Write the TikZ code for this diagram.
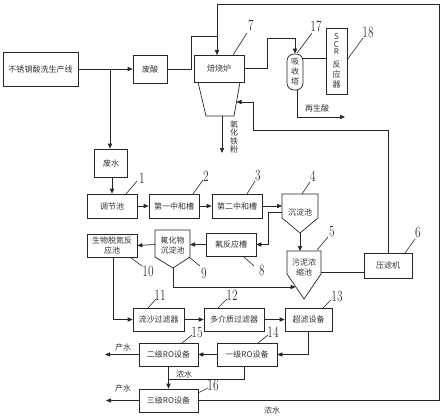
\documentclass[tikz,border=0pt]{standalone}
\usepackage{fontspec}
\usepackage{graphicx}
\newfontfamily\cjk{Noto Sans CJK SC}
\usetikzlibrary{arrows.meta}
\tikzset{
  ln/.style={line width=0.7pt, draw=black!85},
  arr/.style={ln, -{Triangle[length=5pt,width=4.2pt]}},
  box/.style={draw=black!85, line width=0.7pt, inner sep=0pt, font=\cjk\fontsize{8}{10}\selectfont, text=black!80, align=center},
  lbl/.style={font=\cjk\fontsize{8}{10}\selectfont, text=black!80, inner sep=0pt, align=center},
  num/.style={font=\fontsize{12}{12}\selectfont, text=black!80, inner sep=0pt},
  lead/.style={line width=0.6pt, draw=black!85},
}
\newcommand{\nm}[1]{\scalebox{0.95}[1.3]{#1}}
\begin{document}
\begin{tikzpicture}[x=1pt,y=-1pt]
\useasboundingbox (0,0) rectangle (443,417);
\fill[white] (0,0) rectangle (443,417);

% top row
\node[box, minimum width=75pt, minimum height=34pt] (src) at (40.5,69) {不锈钢酸洗生产线};
\node[box, minimum width=34pt, minimum height=28pt] (fs) at (150,69) {废酸};
\node[box, minimum width=50pt, minimum height=27pt] (furn) at (219,68.5) {焙烧炉};
\coordinate (h1) at (198,82);
\coordinate (h2) at (240,82);
\coordinate (h3) at (234,116);
\coordinate (h4) at (206,116);
\draw[ln] (h1) -- (h4) -- (h3) -- (h2);
\coordinate (hopout) at (222,116);
\coordinate (hopin) at (236.5,102);
\node[box, minimum width=16pt, minimum height=36pt, rounded corners=7pt] (abs) at (295,72) {吸\\收\\塔};
\node[box, minimum width=21pt, minimum height=66pt] (scr) at (336.5,61) {S\\[-2.5pt]C\\[-2.5pt]R\\[3pt]反\\应\\器};

% water line
\node[box, minimum width=33pt, minimum height=28pt] (fw) at (111,163) {废水};
\node[box, minimum width=50pt, minimum height=24pt] (tj) at (112,206) {调节池};
\node[box, minimum width=50pt, minimum height=24pt] (z1) at (174,206) {第一中和槽};
\node[box, minimum width=50pt, minimum height=24pt] (z2) at (237,206) {第二中和槽};
% settling tank 4
\coordinate (cdTL) at (282,194);
\coordinate (cdTR) at (318,194);
\coordinate (cdBR) at (318,218);
\coordinate (cdTip) at (300,233);
\coordinate (cdBL) at (282,218);
\draw[ln] (cdTL) -- (cdTR) -- (cdBR) -- (cdTip) -- (cdBL) -- cycle;
\node[lbl] (cd) at (300,212) {沉淀池};
\coordinate (cdIn) at (282,206);
\coordinate (cdOut) at (282,212);

\node[box, minimum width=50pt, minimum height=23pt] (ff) at (231,244.5) {氟反应槽};
% fluoride settling 9
\coordinate (fhTL) at (155,230);
\coordinate (fhTR) at (190,230);
\coordinate (fhBR) at (190,257);
\coordinate (fhTip) at (173,268);
\coordinate (fhBL) at (155,257);
\draw[ln] (fhTL) -- (fhTR) -- (fhBR) -- (fhTip) -- (fhBL) -- cycle;
\node[lbl] (fh) at (172.5,245.5) {氟化物\\沉淀池};
\coordinate (fhIn) at (190,244.5);
\coordinate (fhOut) at (155,244.5);

\node[box, minimum width=50pt, minimum height=23pt] (bio) at (112,245.5) {生物脱氮反\\应池};
% sludge thickener 5
\coordinate (wnTL) at (287,251);
\coordinate (wnTR) at (321,251);
\coordinate (wnBR) at (321,274);
\coordinate (wnTip) at (304,299);
\coordinate (wnBL) at (287,274);
\draw[ln] (wnTL) -- (wnTR) -- (wnBR) -- (wnTip) -- (wnBL) -- cycle;
\node[lbl] (wn) at (304,267) {污泥浓\\缩池};
\coordinate (wnTop) at (300,251);
\coordinate (wnSide) at (295.5,287);
\coordinate (wnRight) at (321,272);

\node[box, minimum width=48pt, minimum height=25pt] (yl) at (388,265.5) {压滤机};

\node[box, minimum width=51pt, minimum height=23pt] (ls) at (158.5,319.5) {流沙过滤器};
\node[box, minimum width=60pt, minimum height=23pt] (dj) at (234,319.5) {多介质过滤器};
\node[box, minimum width=47pt, minimum height=23pt] (cl) at (308.5,319.5) {超滤设备};
\node[box, minimum width=60pt, minimum height=23pt] (ro1) at (247,354.5) {一级RO设备};
\node[box, minimum width=59pt, minimum height=23pt] (ro2) at (168.5,354.5) {二级RO设备};
\node[box, minimum width=59pt, minimum height=23pt] (ro3) at (168.5,400.5) {三级RO设备};

% connectors top
\draw[arr] (src.east) -- (fs.west);
\coordinate (j1) at (110,69);
\draw[arr] (j1) -- (j1 |- fw.north);
\coordinate (fin) at (217,55);
\coordinate (ftop) at (217,36);
\draw[ln] (fs.east) -- (191,69) -- (191,36) -- (ftop);
\coordinate (tr) at (439,4);
\coordinate (tl) at (217,4);
\draw[arr] (ro3.east) -| (tr) -- (tl) -- (fin);
\draw[arr] (furn.east) -- (267,68.5) -- (267,38) -- (295,38) -- (abs.north);
\coordinate (absR) at (302.4,58);
\draw[ln] (absR) -- (absR -| scr.west);
\coordinate (absB) at (297,90);
\coordinate (regen) at (345,117);
\draw[arr] (absB) |- (regen);
\node[lbl] (rs) at (317,108) {再生酸};
\coordinate (oxEnd) at (222,153);
\draw[arr] (hopout) -- (oxEnd);
\node[lbl, font=\cjk\fontsize{8}{8.6}\selectfont] (ox) at (234,137) {氧\\化\\铁\\粉};
\coordinate (ylTop) at (388,130);
\draw[arr] (yl.north) -- (ylTop) -- (253,130) -- (253,102) -- (hopin);

% water connectors
\draw[arr] (fw.south -| 112,0) -- (tj.north);
\draw[arr] (tj.east) -- (z1.west);
\draw[arr] (z1.east) -- (z2.west);
\draw[arr] (z2.east) -- (cdIn);
\draw[arr] (cdOut) -- (268,212) -- (268,244.5) -- (ff.east);
\draw[arr] (cdTip) -- (wnTop);
\draw[arr] (ff.west) -- (fhIn);
\draw[arr] (fhOut) -- (bio.east);
\draw[arr] (fhTip) -- (173,287) -- (wnSide);
\draw[ln] (wnRight) -- (wnRight -| yl.west);
\coordinate (bioB) at (113,257);
\draw[arr] (bioB) |- (ls.west);
\draw[arr] (ls.east) -- (dj.west);
\draw[arr] (dj.east) -- (cl.west);
\draw[arr] (cl.south) |- (ro1.east);
\draw[arr] (ro1.west) -- (ro2.east);
\coordinate (p1) at (105,354.5);
\draw[arr] (ro2.west) -- (p1);
\coordinate (ro1b) at (244,366);
\coordinate (mrg) at (168,379);
\draw[ln] (ro1b) |- (mrg);
\draw[arr] (ro2.south) -- (ro3.north);
\coordinate (p2) at (106,400.5);
\draw[arr] (ro3.west) -- (p2);
\node[lbl] (cs1) at (123,347) {产水};
\node[lbl] (cs2) at (123,388) {产水};
\node[lbl] (ns1) at (184,374.5) {浓水};
\node[lbl] (ns2) at (272,410) {浓水};

% numbers with leaders
\draw[lead] (233,55) -- (247,33); \node[num] (n7) at (251,25) {\nm{7}};
\draw[lead] (297,53) -- (312,33); \node[num] (n17) at (316,26) {\nm{17}};
\draw[lead] (347,60) -- (363,38); \node[num] (n18) at (368,32) {\nm{18}};
\draw[lead] (126,194) -- (137,181); \node[num] (n1) at (142,178) {\nm{1}};
\draw[lead] (193,194) -- (203,180); \node[num] (n2) at (206,176) {\nm{2}};
\draw[lead] (247,194) -- (255,181); \node[num] (n3) at (258,175) {\nm{3}};
\draw[lead] (302,194) -- (310,182); \node[num] (n4) at (313,176) {\nm{4}};
\draw[lead] (317,250) -- (328,237); \node[num] (n5) at (332,231) {\nm{5}};
\draw[lead] (405,253) -- (415,239); \node[num] (n6) at (418,232) {\nm{6}};
\draw[lead] (243,256) -- (254,266); \node[num] (n8) at (262,270) {\nm{8}};
\draw[lead] (189,257) -- (200,266); \node[num] (n9) at (204,273) {\nm{9}};
\draw[lead] (130,257) -- (142,266); \node[num] (n10) at (148,271) {\nm{10}};
\draw[lead] (148,308) -- (156,299); \node[num] (n11) at (160,295) {\nm{11}};
\draw[lead] (218,308) -- (227,299); \node[num] (n12) at (232,295) {\nm{12}};
\draw[lead] (323,308) -- (331,300); \node[num] (n13) at (337,296) {\nm{13}};
\draw[lead] (258,343) -- (268,335); \node[num] (n14) at (273,332) {\nm{14}};
\draw[lead] (182,343) -- (192,335); \node[num] (n15) at (197,332) {\nm{15}};
\draw[lead] (198,393) -- (208,388); \node[num] (n16) at (213,385) {\nm{16}};
\end{tikzpicture}
\end{document}
